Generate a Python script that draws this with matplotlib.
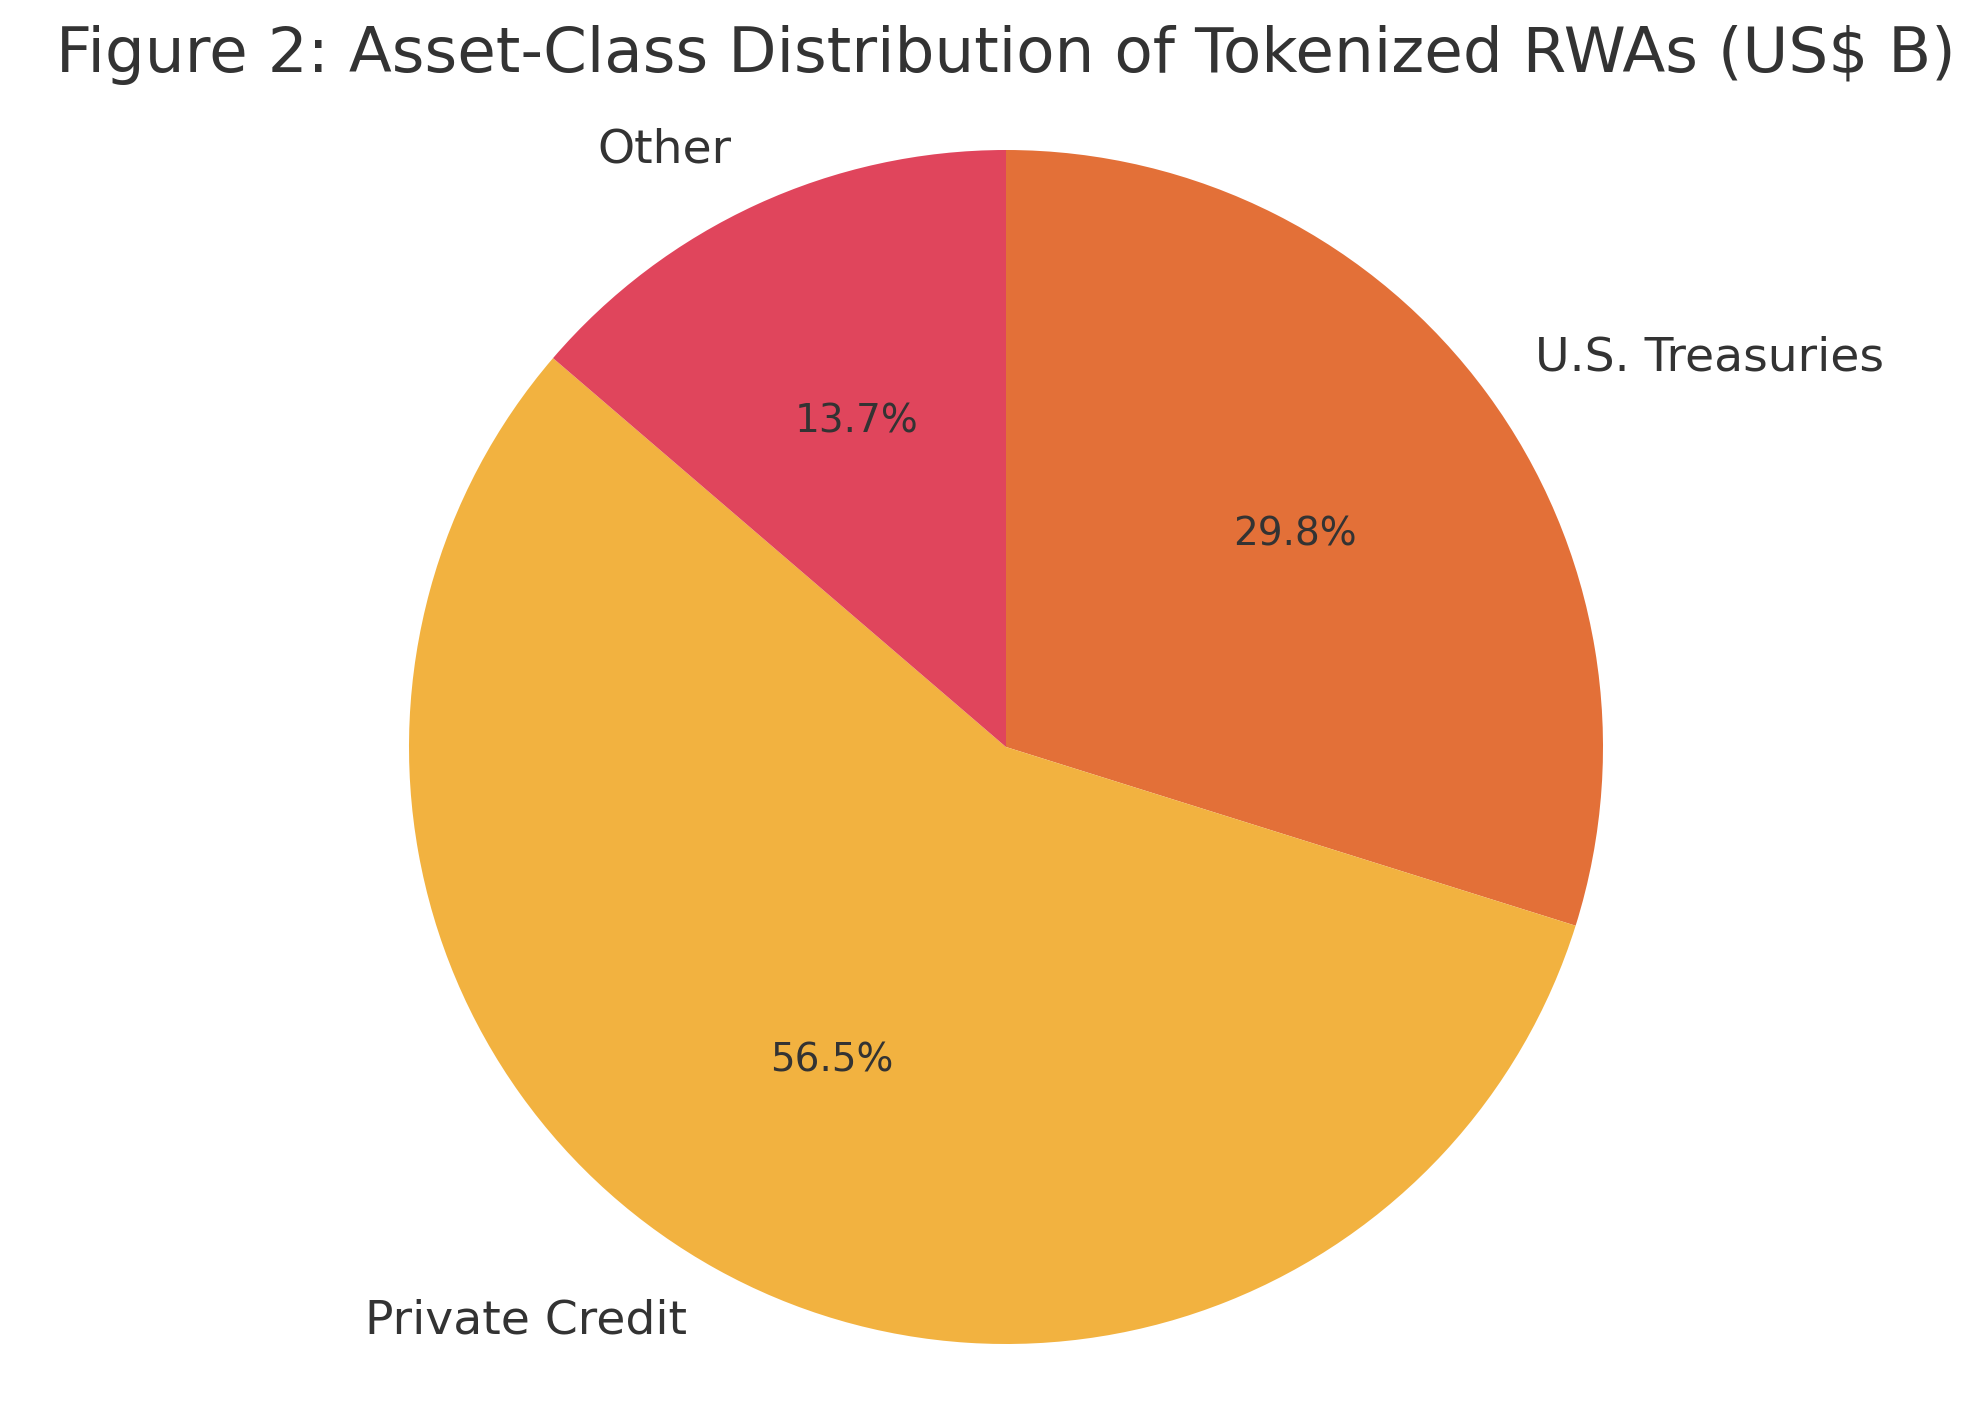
import matplotlib.pyplot as plt

# asset classes, US$ B (values picked so the shares match the chart)
labels = ["U.S. Treasuries", "Private Credit", "Other"]
values = [7.4, 14.0, 3.4]
colors = ["#E37038", "#F2B240", "#E0455C"]

W, H = 1985, 1411
dpi = 200
fig = plt.figure(figsize=(W / dpi, H / dpi), dpi=dpi)

# pie centre and radius in pixels
cx, cy, r = 1006, 1411 - 747, 597
lim = 1.2
side = 2 * lim * r
ax = fig.add_axes([(cx - side / 2) / W, (cy - side / 2) / H, side / W, side / H])

wedges, texts, autotexts = ax.pie(values, labels=labels, colors=colors,
                                  startangle=90, counterclock=False,
                                  autopct="%1.1f%%",
                                  textprops={"fontsize": 17, "color": "#333333"})
for t in autotexts:
    t.set_fontsize(14)
ax.set_xlim(-lim, lim)
ax.set_ylim(-lim, lim)
ax.set_aspect("equal")
ax.axis("off")

fig.text(1006 / W, 1 - 72 / H, "Figure 2: Asset-Class Distribution of Tokenized RWAs (US$ B)",
         ha="center", va="baseline", fontsize=22.6, color="#333333")

fig.savefig("out.png", dpi=dpi)
